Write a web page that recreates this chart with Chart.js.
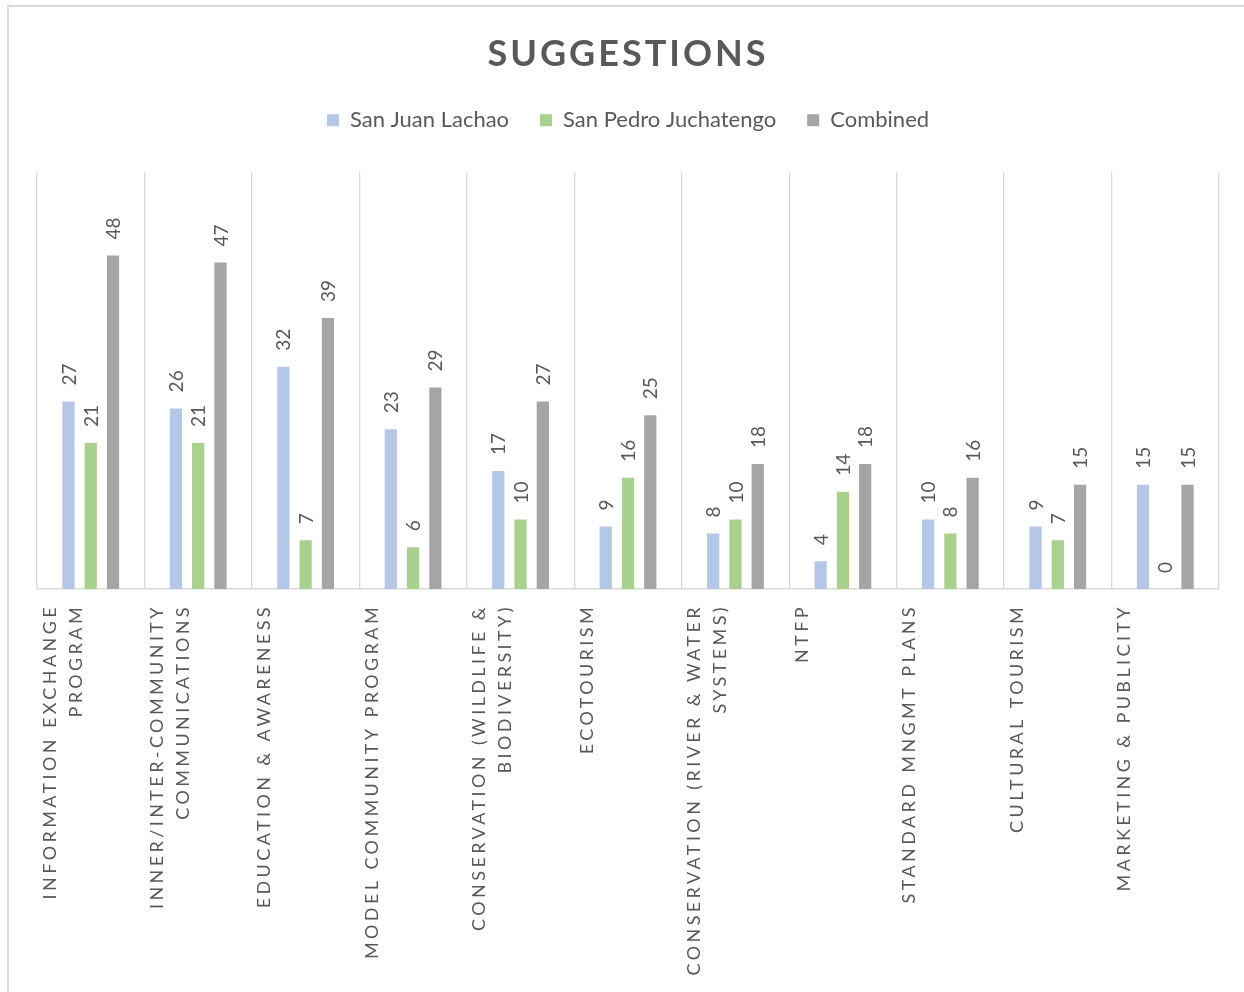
<!DOCTYPE html>
<html>
<head>
<meta charset="utf-8">
<script src="https://cdn.jsdelivr.net/npm/chart.js@4"></script>
<style>
  body { margin: 0; background: #fff; }
  #wrap { position: relative; width: 1244px; height: 992px; }
  #frame { position: absolute; left: 7px; top: 5px; width: 1300px; height: 1100px;
           border-left: 2px solid #d9d9d9; border-top: 2px solid #d9d9d9; }
  canvas { position: absolute; left: 0; top: 0; }
</style>
</head>
<body>
<div id="wrap">
  <div id="frame"></div>
  <canvas id="chart"></canvas>
</div>
<script>
const categories = [
  ["INFORMATION EXCHANGE", "PROGRAM"],
  ["INNER/INTER-COMMUNITY", "COMMUNICATIONS"],
  "EDUCATION & AWARENESS",
  "MODEL COMMUNITY PROGRAM",
  ["CONSERVATION (WILDLIFE &", "BIODIVERSITY)"],
  "ECOTOURISM",
  ["CONSERVATION (RIVER & WATER", "SYSTEMS)"],
  "NTFP",
  "STANDARD MNGMT PLANS",
  "CULTURAL TOURISM",
  "MARKETING & PUBLICITY"
];
const sanJuan = [27, 26, 32, 23, 17, 9, 8, 4, 10, 9, 15];
const sanPedro = [21, 21, 7, 6, 10, 16, 10, 14, 8, 7, 0];
const combined = [48, 47, 39, 29, 27, 25, 18, 18, 16, 15, 15];

const textColor = "#595959";
const fontFamily = "Lato, 'Open Sans', sans-serif";

// value labels above each bar, rotated like the original
const barLabels = {
  id: "barLabels",
  afterDatasetsDraw(chart) {
    const ctx = chart.ctx;
    ctx.save();
    ctx.font = "19px " + fontFamily;
    ctx.fillStyle = textColor;
    ctx.textAlign = "left";
    ctx.textBaseline = "middle";
    chart.data.datasets.forEach(function (ds, di) {
      chart.getDatasetMeta(di).data.forEach(function (bar, i) {
        ctx.save();
        ctx.translate(bar.x + 1, bar.y - 16);
        ctx.rotate(-Math.PI / 2);
        ctx.fillText(String(ds.data[i]), 0, 0);
        ctx.restore();
      });
    });
    ctx.restore();
  }
};

// letter spacing for title and axis labels, extra room under the legend
const spacing = {
  id: "spacing",
  afterInit(chart) {
    const lg = chart.legend;
    const fit = lg.fit;
    lg.fit = function () { fit.call(this); this.height += 31; };
    const tb = chart.titleBlock;
    const tdraw = tb.draw;
    tb.draw = function () {
      chart.ctx.save(); chart.ctx.letterSpacing = "3px";
      tdraw.apply(this, arguments);
      chart.ctx.restore();
    };
  },
  beforeDraw(chart) {
    const sx = chart.scales.x;
    if (!sx._spaced) {
      const orig = sx.drawLabels;
      sx.drawLabels = function () {
        chart.ctx.save(); chart.ctx.letterSpacing = "3.4px";
        orig.apply(this, arguments);
        chart.ctx.restore();
      };
      sx._spaced = true;
    }
  }
};

new Chart(document.getElementById("chart"), {
  type: "bar",
  data: {
    labels: categories,
    datasets: [
      { label: "San Juan Lachao", data: sanJuan, backgroundColor: "#B4C7E7" },
      { label: "San Pedro Juchatengo", data: sanPedro, backgroundColor: "#A9D18E" },
      { label: "Combined", data: combined, backgroundColor: "#A5A5A5" }
    ]
  },
  options: {
    responsive: true,
    maintainAspectRatio: false,
    animation: false,
    categoryPercentage: 0.622,
    barPercentage: 0.55,
    layout: { padding: { left: 37, right: 25, top: 0, bottom: 0 } },
    plugins: {
      title: {
        display: true,
        text: "SUGGESTIONS",
        color: textColor,
        font: { family: fontFamily, size: 36, weight: "bold", lineHeight: 1.2 },
        padding: { top: 33, bottom: 2 }
      },
      legend: {
        display: true,
        labels: {
          color: textColor,
          font: { family: fontFamily, size: 22 },
          boxWidth: 12,
          boxHeight: 12,
          padding: 31
        }
      },
      tooltip: { enabled: false }
    },
    scales: {
      x: {
        grid: { display: true, color: "#d9d9d9", lineWidth: 1.3, drawTicks: false },
        border: { display: true, color: "#d9d9d9", width: 1.5 },
        ticks: {
          color: textColor,
          font: { family: fontFamily, size: 18, lineHeight: 1.45 },
          minRotation: 90,
          maxRotation: 90,
          autoSkip: false,
          padding: 15,
          labelOffset: -41
        },
        afterFit(scale) { scale.height = 403; }
      },
      y: {
        display: false,
        min: 0,
        max: 60
      }
    }
  },
  plugins: [barLabels, spacing]
});
</script>
</body>
</html>
